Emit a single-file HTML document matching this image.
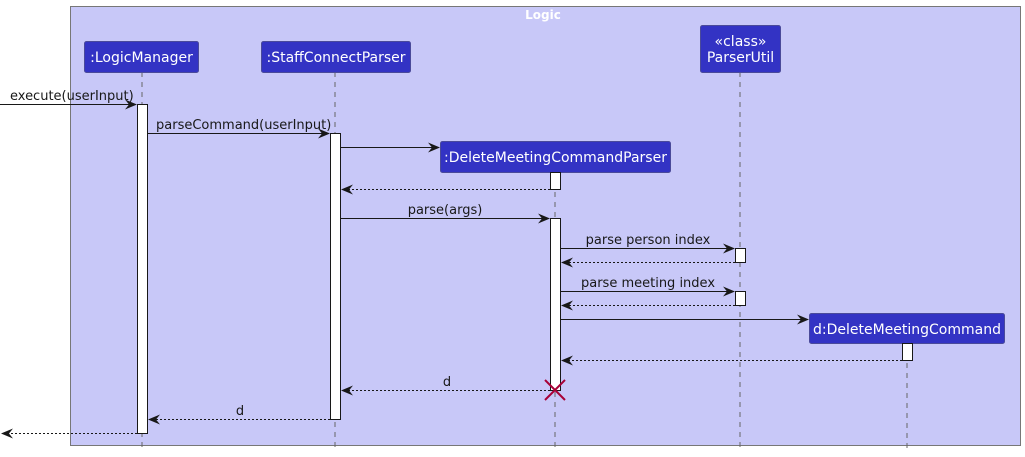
<!DOCTYPE html>
<html><head><meta charset="utf-8"><style>
html,body{margin:0;padding:0;background:#fff;}
svg{display:block;font-family:"DejaVu Sans","Liberation Sans",sans-serif;}
</style></head><body>
<svg width="1025" height="457" viewBox="0 0 1025 457" xmlns="http://www.w3.org/2000/svg">
<defs>
<marker id="a" viewBox="0 0 12 10" refX="11" refY="5" markerWidth="12" markerHeight="10" orient="auto" markerUnits="userSpaceOnUse">
<path d="M0,0 L12,5 L0,10 L4,5 Z" fill="#181818"/></marker>
</defs>
<rect x="70.5" y="6.5" width="950" height="439" fill="#c8c8f8" stroke="#777" stroke-width="1"/>
<text x="543" y="19" fill="#fff" font-size="12" font-weight="bold" text-anchor="middle">Logic</text>
<g stroke="#666" stroke-dasharray="5,5" stroke-width="1">
<line x1="142" y1="72" x2="142" y2="452"/>
<line x1="335" y1="72" x2="335" y2="452"/>
<line x1="555" y1="172" x2="555" y2="452"/>
<line x1="740" y1="72" x2="740" y2="452"/>
<line x1="907" y1="343" x2="907" y2="452"/>
</g>
<g fill="#3333c4" stroke="#4a4a9a" stroke-width="1">
<rect x="84.5" y="41.5" width="114" height="31" rx="2"/>
<rect x="261.5" y="41.5" width="149" height="31" rx="2"/>
<rect x="700.5" y="25.5" width="80" height="47" rx="2"/>
<rect x="440.5" y="141.5" width="230" height="31" rx="2"/>
<rect x="809.5" y="313.5" width="195" height="30" rx="2"/>
</g>
<g fill="#fff" font-size="14" text-anchor="middle">
<text x="141.5" y="62">:LogicManager</text>
<text x="336" y="62">:StaffConnectParser</text>
<text x="740.5" y="46">«class»</text>
<text x="740.5" y="62">ParserUtil</text>
<text x="555.5" y="162">:DeleteMeetingCommandParser</text>
<text x="907" y="334">d:DeleteMeetingCommand</text>
</g>
<g fill="#fff" stroke="#181818" stroke-width="1">
<rect x="137.5" y="104.5" width="10" height="329"/>
<rect x="330.5" y="133.5" width="10" height="286"/>
<rect x="550.5" y="172.5" width="10" height="17"/>
<rect x="550.5" y="218.5" width="10" height="172"/>
<rect x="735.5" y="248.5" width="10" height="14"/>
<rect x="735.5" y="291.5" width="10" height="14"/>
<rect x="902.5" y="343.5" width="10" height="17"/>
</g>
<g stroke="#181818" stroke-width="1" fill="none">
<line x1="0" y1="104.5" x2="136" y2="104.5" marker-end="url(#a)"/>
<line x1="148" y1="133.5" x2="329" y2="133.5" marker-end="url(#a)"/>
<line x1="341" y1="147.5" x2="439" y2="147.5" marker-end="url(#a)"/>
<line x1="341" y1="218.5" x2="549" y2="218.5" marker-end="url(#a)"/>
<line x1="561" y1="248.5" x2="734" y2="248.5" marker-end="url(#a)"/>
<line x1="561" y1="291.5" x2="734" y2="291.5" marker-end="url(#a)"/>
<line x1="561" y1="319.5" x2="808" y2="319.5" marker-end="url(#a)"/>
</g>
<g stroke="#181818" stroke-width="1" fill="none" stroke-dasharray="2,2">
<line x1="550" y1="189.5" x2="342" y2="189.5" marker-end="url(#a)"/>
<line x1="735" y1="262.5" x2="562" y2="262.5" marker-end="url(#a)"/>
<line x1="735" y1="305.5" x2="562" y2="305.5" marker-end="url(#a)"/>
<line x1="902" y1="360.5" x2="562" y2="360.5" marker-end="url(#a)"/>
<line x1="550" y1="390.5" x2="342" y2="390.5" marker-end="url(#a)"/>
<line x1="330" y1="419.5" x2="149" y2="419.5" marker-end="url(#a)"/>
<line x1="137" y1="433.5" x2="2" y2="433.5" marker-end="url(#a)"/>
</g>
<g stroke="#a80036" stroke-width="2">
<line x1="545" y1="380" x2="565" y2="400"/>
<line x1="565" y1="380" x2="545" y2="400"/>
</g>
<g fill="#181818" font-size="13">
<text x="10" y="100">execute(userInput)</text>
<text x="156" y="129">parseCommand(userInput)</text>
<text x="445" y="214" text-anchor="middle">parse(args)</text>
<text x="648" y="244" text-anchor="middle">parse person index</text>
<text x="648" y="287" text-anchor="middle">parse meeting index</text>
<text x="447" y="386" text-anchor="middle">d</text>
<text x="240" y="415" text-anchor="middle">d</text>
</g>
</svg>
</body></html>
